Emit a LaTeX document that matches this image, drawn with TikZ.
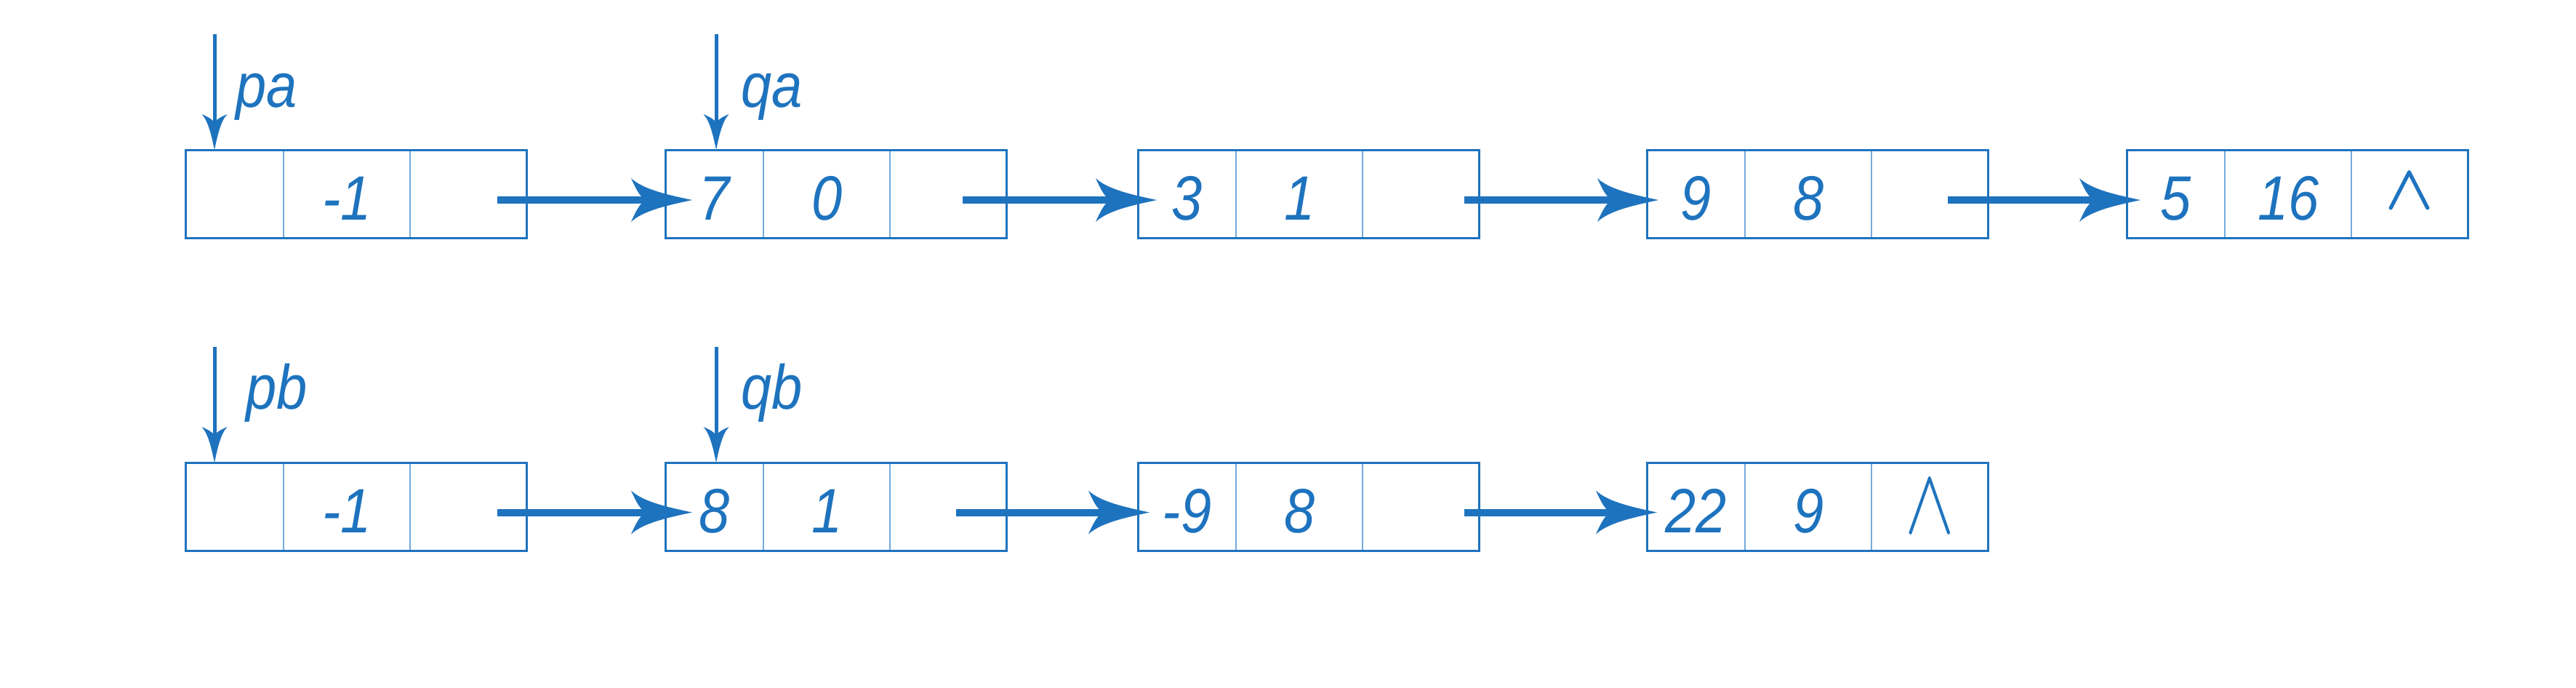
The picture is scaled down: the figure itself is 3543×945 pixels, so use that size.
\documentclass[tikz,border=0pt]{standalone}
\usepackage{fontspec}
\setmainfont{Liberation Sans}[FakeStretch=0.88]
\usetikzlibrary{arrows.meta,calc}
\definecolor{lb}{HTML}{1E73BE}
\definecolor{lbl}{HTML}{74AADB}
\pgfdeclarearrow{
  name = Swoop,
  parameters = {\the\pgfarrowlength,\the\pgfarrowwidth},
  setup code = {
    \pgfarrowssettipend{0pt}
    \pgfarrowssetbackend{-\pgfarrowlength}
    \pgfarrowssetlineend{-0.72\pgfarrowlength}
    \pgfarrowsupperhullpoint{-\pgfarrowlength}{0.5\pgfarrowwidth}
    \pgfarrowsupperhullpoint{0pt}{0pt}
    \pgfarrowssavethe\pgfarrowlength
    \pgfarrowssavethe\pgfarrowwidth
  },
  drawing code = {
    \pgfpathmoveto{\pgfpointorigin}
    \pgfpathcurveto{\pgfpoint{-0.40\pgfarrowlength}{0.12\pgfarrowwidth}}{\pgfpoint{-0.80\pgfarrowlength}{0.24\pgfarrowwidth}}{\pgfpoint{-\pgfarrowlength}{0.5\pgfarrowwidth}}
    \pgfpathcurveto{\pgfpoint{-0.92\pgfarrowlength}{0.25\pgfarrowwidth}}{\pgfpoint{-0.86\pgfarrowlength}{0.08\pgfarrowwidth}}{\pgfpoint{-0.76\pgfarrowlength}{0pt}}
    \pgfpathcurveto{\pgfpoint{-0.86\pgfarrowlength}{-0.08\pgfarrowwidth}}{\pgfpoint{-0.92\pgfarrowlength}{-0.25\pgfarrowwidth}}{\pgfpoint{-\pgfarrowlength}{-0.5\pgfarrowwidth}}
    \pgfpathcurveto{\pgfpoint{-0.80\pgfarrowlength}{-0.24\pgfarrowwidth}}{\pgfpoint{-0.40\pgfarrowlength}{-0.12\pgfarrowwidth}}{\pgfpointorigin}
    \pgfpathclose
    \pgfusepathqfill
  },
  defaults = {length=10pt, width=7pt}
}
\newcommand{\mklist}[6]{%
  \node[cellA] (#1c1) at (#2,#3) {#4};
  \node[cellB] (#1c2) at (#1c1.east) {#5};
  \node[cellC] (#1c3) at (#1c2.east) {#6};
  \draw[frame] (#1c1.north west) rectangle (#1c3.south east);}
\newcommand{\nil}{\raisebox{0.15cm}{\boldmath$\wedge$}}
\newcommand{\bignil}{\scalebox{1.16}[1.47]{$\wedge$}}
\begin{document}
\begin{tikzpicture}[x=0.01cm,y=-0.01cm,
  font=\fontsize{24.5}{28}\selectfont\itshape,
  cell/.style={draw=lbl, line width=0.015cm, minimum height=1.21cm,
    inner sep=0pt, outer sep=0pt, text=lb, text height=0.72cm, text depth=0pt},
  cellA/.style={cell, minimum width=1.35cm, anchor=north west},
  cellB/.style={cell, minimum width=1.74cm, anchor=west},
  cellC/.style={cell, minimum width=1.60cm, anchor=west},
  frame/.style={draw=lb, line width=0.03cm},
  link/.style={draw=lb, line width=0.1cm,
    -{Swoop[length=0.84cm,width=0.60cm]}},
  ptr/.style={draw=lb, line width=0.05cm,
    -{Swoop[length=0.49cm,width=0.35cm]}},
  lab/.style={anchor=base west, inner sep=0pt, text=lb}]
\useasboundingbox (0,0) rectangle (3543,945);

% row a
\mklist{a1}{255}{206}{}{-1}{}
\mklist{a2}{915}{206}{7}{0}{}
\mklist{a3}{1565}{206}{3}{1}{}
\mklist{a4}{2265}{206}{9}{8}{}
\mklist{a5}{2925}{206}{5}{16}{\nil}

% row b
\mklist{b1}{255}{636}{}{-1}{}
\mklist{b2}{915}{636}{8}{1}{}
\mklist{b3}{1565}{636}{-9}{8}{}
\mklist{b4}{2265}{636}{22}{9}{\bignil}

% links row a
\draw[link] ([shift={(0.40cm,-0.085cm)}]a1c3.center) -- ([shift={(0.37cm,-0.085cm)}]a2c1.west);
\draw[link] ([shift={(0.20cm,-0.085cm)}]a2c3.center) -- ([shift={(0.26cm,-0.085cm)}]a3c1.west);
\draw[link] ([shift={(0.60cm,-0.085cm)}]a3c3.center) -- ([shift={(0.16cm,-0.085cm)}]a4c1.west);
\draw[link] ([shift={(0.25cm,-0.085cm)}]a4c3.center) -- ([shift={(0.19cm,-0.085cm)}]a5c1.west);

% links row b
\draw[link] ([shift={(0.40cm,-0.08cm)}]b1c3.center) -- ([shift={(0.37cm,-0.08cm)}]b2c1.west);
\draw[link] ([shift={(0.11cm,-0.08cm)}]b2c3.center) -- ([shift={(0.16cm,-0.08cm)}]b3c1.west);
\draw[link] ([shift={(0.60cm,-0.08cm)}]b3c3.center) -- ([shift={(0.14cm,-0.08cm)}]b4c1.west);

% pointers
\coordinate (pa0) at (295,47);
\coordinate (qa0) at (985,47);
\coordinate (pb0) at (295,477);
\coordinate (qb0) at (985,477);
\draw[ptr] (pa0) -- (pa0 |- a1c1.north);
\draw[ptr] (qa0) -- (qa0 |- a2c1.north);
\draw[ptr] (pb0) -- (pb0 |- b1c1.north);
\draw[ptr] (qb0) -- (qb0 |- b2c1.north);

\node[lab] (pal) at (324,147) {pa};
\node[lab] (qal) at (1019,147) {qa};
\node[lab] (pbl) at (338,562) {pb};
\node[lab] (qbl) at (1019,562) {qb};
\end{tikzpicture}
\end{document}
